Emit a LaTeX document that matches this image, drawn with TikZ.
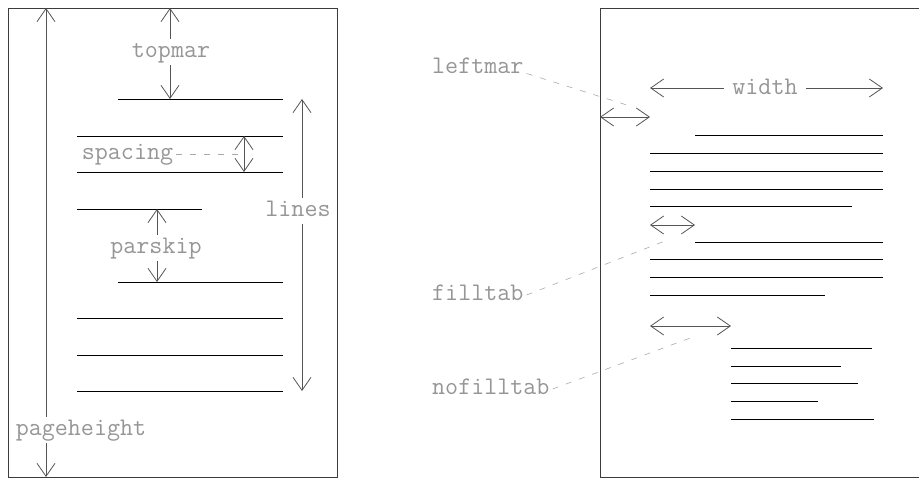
\documentclass[tikz,border=0pt]{standalone}
\usetikzlibrary{arrows.meta}
\definecolor{labgray}{RGB}{150,150,150}
\definecolor{arrgray}{RGB}{85,85,85}
\definecolor{leadgray}{RGB}{170,170,170}
\definecolor{pagegray}{RGB}{60,60,60}
\begin{document}
\begin{tikzpicture}[x=1pt,y=-1pt,
  lab/.style={font=\ttfamily\fontsize{25.3}{25.3}\selectfont, text=labgray, fill=white,
    inner xsep=3pt, inner ysep=4.5pt, text height=14pt, text depth=3pt},
  dim/.style={draw=arrgray, line width=0.8pt,
    {Straight Barb[length=13pt,width=18pt]}-{Straight Barb[length=13pt,width=18pt]}},
  tline/.style={draw=black, line width=0.8pt},
  pageframe/.style={draw=pagegray, line width=0.9pt},
  lead/.style={draw=leadgray, line width=0.6pt, dash pattern=on 6pt off 8pt}]
\useasboundingbox (0,0) rectangle (919,478);
% ---------------- left page ----------------
\draw[pageframe] (8,8) rectangle (337,477);
% text lines
\foreach \y/\xa/\xb in {99/118/283, 136/77/283, 172/77/283, 209/77/202,
                         282/118/283, 318/77/283, 355/77/283, 391/77/283}
  \draw[tline] (\xa,\y) -- (\xb,\y);
% coordinates
\coordinate (phT) at (46,8);   \coordinate (phB) at (46,477);
\coordinate (tmT) at (170,8);  \coordinate (tmB) at (170,99);
\coordinate (spT) at (244,136); \coordinate (spB) at (244,172); \coordinate (spM) at (244,154);
\coordinate (psT) at (157,209); \coordinate (psB) at (157,282);
\coordinate (lnT) at (302,99);  \coordinate (lnB) at (302,391);
% dimension arrows
\draw[dim] (phB) -- (phT);
\draw[dim] (tmB) -- (tmT);
\draw[dim] (spB) -- (spT);
\draw[dim] (psB) -- (psT);
\draw[dim] (lnB) -- (lnT);
% labels
\node[lab] (pageheight) at (81,430) {pageheight};
\node[lab] (topmar) at (171,52) {topmar};
\node[lab] (lines) at (298,211) {lines};
\node[lab] (parskip) at (156,248) {parskip};
\node[lab,fill=none] (spacing) at (127.5,154) {spacing};
\draw[lead] (spacing.east) -- (spM);
% ---------------- right page ----------------
\draw[pageframe] (919,8) -- (600,8) -- (600,477) -- (919,477);
\foreach \y/\xa/\xb in {135/695/883, 153/650/883, 171/650/883, 189/650/883, 206/650/852,
                         242/695/883, 259/650/883, 277/650/883, 295/650/825,
                         348/731/872, 366/731/841, 383/731/858, 401/731/818, 419/731/874}
  \draw[tline] (\xa,\y) -- (\xb,\y);
\coordinate (lmL) at (600,117); \coordinate (lmR) at (650,117);
\coordinate (wdL) at (650,88);  \coordinate (wdR) at (883,88);
\coordinate (ftL) at (650,225); \coordinate (ftR) at (695,225);
\coordinate (nfL) at (650,326); \coordinate (nfR) at (731,326);
\draw[dim] (lmL) -- (lmR);
\draw[dim] (wdL) -- (wdR);
\draw[dim] (ftL) -- (ftR);
\draw[dim] (nfL) -- (nfR);
\node[lab,inner xsep=8pt] (width) at (765,89) {width};
\node[lab,fill=none,anchor=west] (leftmar) at (429,68) {leftmar};
\node[lab,fill=none,anchor=west] (filltab) at (429,295) {filltab};
\node[lab,fill=none,anchor=west] (nofilltab) at (429,389) {nofilltab};
\coordinate (lmEnd) at (630,106);
\coordinate (ftEnd) at (670,239);
\coordinate (nfEnd) at (693,337);
\draw[lead] (leftmar.base east) -- (lmEnd);
\draw[lead] (filltab.east) -- (ftEnd);
\draw[lead] (nofilltab.east) -- (nfEnd);
\end{tikzpicture}
\end{document}
